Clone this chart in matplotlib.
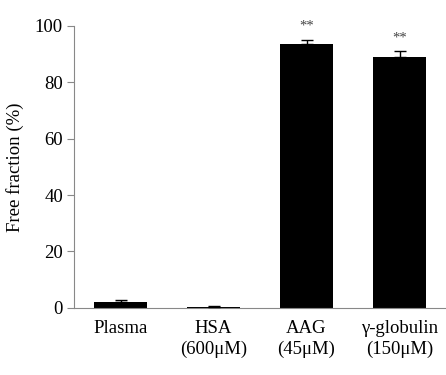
import matplotlib
matplotlib.use("Agg")
import matplotlib.pyplot as plt

categories = ["Plasma", "HSA\n(600μM)", "AAG\n(45μM)", "γ-globulin\n(150μM)"]
values = [2.0, 0.4, 93.5, 89.0]
errors = [0.7, 0.2, 1.5, 2.0]
marks = ["", "", "**", "**"]
yticks = [0, 20, 40, 60, 80, 100]

plt.rcParams['font.family'] = ['Liberation Serif', 'DejaVu Serif']
fig = plt.figure(figsize=(4.46, 3.75), dpi=100)
ax = fig.add_axes([0.166, 0.179, 0.834, 0.752])
x = list(range(len(categories)))
ax.bar(x, values, width=0.56, color='black', zorder=2)
ax.errorbar(x, values, yerr=[[0]*len(errors), errors], fmt='none', ecolor='black',
            elinewidth=1.0, capsize=4, capthick=1.0, zorder=3)
for xi, v, e, m in zip(x, values, errors, marks):
    if m:
        ax.text(xi, v + e + 2.5, m, ha='center', va='bottom', fontsize=10.5, color='#444444')
ax.set_xlim(-0.5, 3.5)
ax.set_ylim(0, 100)
ax.set_yticks(yticks)
ax.set_xticks(x)
ax.set_xticklabels(categories, fontsize=13.5, linespacing=1.25)
ax.tick_params(axis='y', labelsize=13.5, direction='out', length=5, color='#888888', width=0.8, pad=3)
ax.tick_params(axis='x', length=0, pad=9)
ax.set_ylabel("Free fraction (%)", fontsize=13.5, labelpad=8)
for s in ['top', 'right']:
    ax.spines[s].set_visible(False)
for s in ['left', 'bottom']:
    ax.spines[s].set_color('#888888')
    ax.spines[s].set_linewidth(0.8)
fig.savefig("out.png", dpi=100)
